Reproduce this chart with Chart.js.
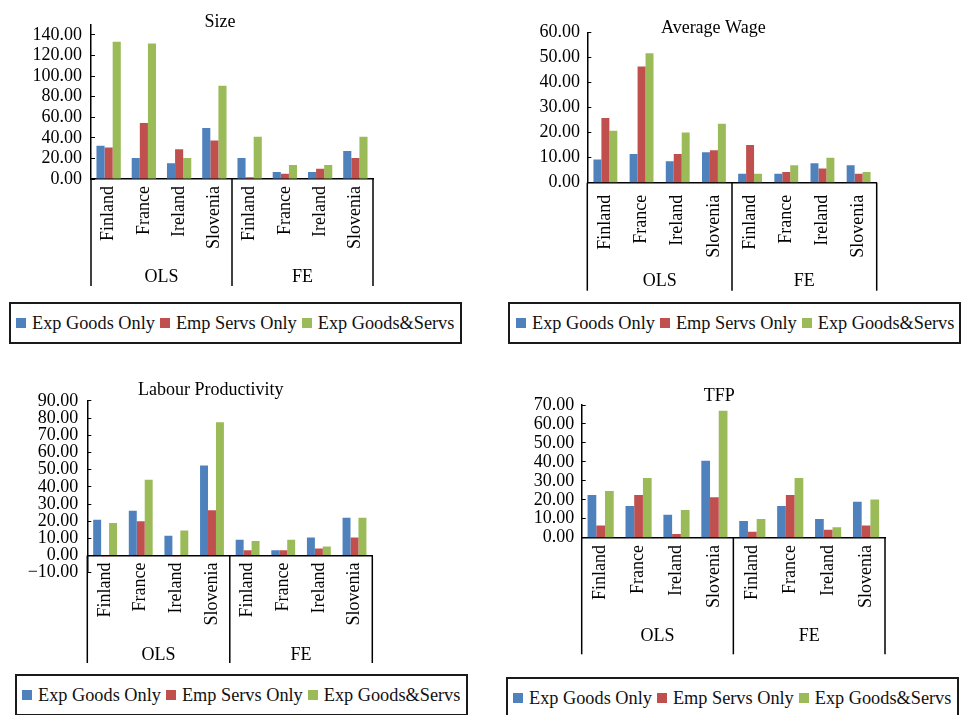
<!DOCTYPE html>
<html>
<head>
<meta charset="utf-8">
<script src="https://cdn.jsdelivr.net/npm/chart.js@4/dist/chart.umd.min.js"></script>
<style>
  html, body { margin: 0; padding: 0; background: #fff; }
  body { position: relative; width: 963px; height: 715px; overflow: hidden;
         font-family: "Liberation Serif", "Times New Roman", serif; }
  canvas.panel { position: absolute; }
  .legend { position: absolute; box-sizing: border-box; border: 2px solid #1a1a1a;
            display: flex; align-items: center; font-size: 18.3px; color: #111;
            white-space: nowrap; background: #fff; }
  .legend .item { display: flex; align-items: center; margin-right: 5px; }
  .legend .key { display: inline-block; width: 10px; height: 10px; margin-right: 6px; }
</style>
</head>
<body>
<canvas id="c1" class="panel"></canvas>
<canvas id="c2" class="panel"></canvas>
<canvas id="c3" class="panel"></canvas>
<canvas id="c4" class="panel"></canvas>
<div id="l1" class="legend"></div>
<div id="l2" class="legend"></div>
<div id="l3" class="legend"></div>
<div id="l4" class="legend"></div>

<script>
// ---- categories ----
const countries = ['Finland', 'France', 'Ireland', 'Slovenia', 'Finland', 'France', 'Ireland', 'Slovenia'];
const estimators = ['OLS', 'FE'];
const seriesNames = ['Exp Goods Only', 'Emp Servs Only', 'Exp Goods&Servs'];
const seriesColors = ['#4F81BD', '#C0504D', '#9BBB59'];

// ---- Size ----
const sizeGoods = [32.3, 20.4, 15.2, 49.5, 20.4, 6.8, 6.8, 27.2];
const sizeServs = [30.7, 54.3, 28.8, 37.5, 1.6, 5.2, 10.0, 20.4];
const sizeBoth  = [133.2, 131.6, 20.4, 90.5, 41.0, 13.6, 13.6, 41.0];
const sizeTicks = [0, 20, 40, 60, 80, 100, 120, 140];

// ---- Average Wage ----
const wageGoods = [9.3, 11.4, 8.6, 12.1, 3.6, 3.6, 7.8, 7.0];
const wageServs = [25.8, 46.4, 11.4, 12.9, 15.0, 4.3, 5.7, 3.6];
const wageBoth  = [20.7, 51.6, 20.0, 23.5, 3.6, 7.0, 10.0, 4.3];
const wageTicks = [0, 10, 20, 30, 40, 50, 60];

// ---- Labour Productivity ----
const lpGoods = [20.9, 26.1, 11.5, 52.4, 9.2, 3.1, 10.5, 22.0];
const lpServs = [-0.6, 19.9, -0.6, 26.3, 3.1, 3.1, 4.1, 10.5];
const lpBoth  = [18.9, 44.1, 14.6, 77.6, 8.4, 9.2, 5.3, 22.0];
const lpTicks = [-10, 0, 10, 20, 30, 40, 50, 60, 70, 80, 90];

// ---- TFP ----
const tfpGoods = [22.5, 16.7, 12.1, 40.6, 8.8, 16.7, 9.8, 19.0];
const tfpServs = [6.5, 22.5, 1.9, 21.3, 3.2, 22.5, 4.2, 6.5];
const tfpBoth  = [24.6, 31.5, 14.6, 67.0, 9.8, 31.5, 5.5, 20.2];
const tfpTicks = [0, 10, 20, 30, 40, 50, 60, 70];

Chart.defaults.font.family = '"Liberation Serif", "Times New Roman", serif';
Chart.defaults.font.size = 18;
Chart.defaults.color = '#000';
Chart.defaults.animation = false;

const AXIS_COLOR = '#000';
const AXIS_WIDTH = 1.5;

// Vertical separators of the two-level category axis (OLS | FE)
const groupDividers = {
  id: 'groupDividers',
  afterDraw(chart) {
    const x = chart.scales.x, x2 = chart.scales.x2, y = chart.scales.y;
    const per = countries.length / estimators.length;
    const top = y.getPixelForValue(0);
    const bottom = x2.bottom;
    const edges = [x.left];
    for (let g = 1; g < estimators.length; g++) {
      edges.push((x.getPixelForValue(g * per - 1) + x.getPixelForValue(g * per)) / 2);
    }
    edges.push(x.right);
    const ctx = chart.ctx;
    ctx.save();
    ctx.strokeStyle = AXIS_COLOR;
    ctx.lineWidth = AXIS_WIDTH;
    edges.forEach(px => {
      ctx.beginPath();
      ctx.moveTo(px, top);
      ctx.lineTo(px, bottom);
      ctx.stroke();
    });
    ctx.restore();
  }
};

function fmt(v) {
  const s = Math.abs(v).toFixed(2);
  return v < 0 ? '\u2212' + s : s;
}

function buildChart(id, title, series, ticks, yMax, L) {
  const canvas = document.getElementById(id);
  canvas.width = L.w; canvas.height = L.h;
  canvas.style.left = L.left + 'px';
  canvas.style.top = L.top + 'px';

  const xScale = {
    type: 'category',
    position: L.xAtZero ? { y: 0 } : 'bottom',
    grid: { display: false, drawTicks: false },
    border: { display: true, color: AXIS_COLOR, width: AXIS_WIDTH },
    ticks: { autoSkip: false, maxRotation: 90, minRotation: 90, padding: L.xPad, color: '#000' }
  };
  if (!L.xAtZero) xScale.afterFit = s => { s.height = L.xH; };

  return new Chart(canvas, {
    type: 'bar',
    data: {
      labels: countries,
      datasets: series.map((d, i) => ({
        label: seriesNames[i],
        data: d,
        backgroundColor: seriesColors[i],
        borderWidth: 0,
        categoryPercentage: L.cat,
        barPercentage: 1.0,
        xAxisID: 'x',
        yAxisID: 'y'
      }))
    },
    options: {
      responsive: false,
      devicePixelRatio: 1,
      layout: { padding: { left: 0, right: L.padR, top: 0, bottom: L.padB } },
      plugins: {
        legend: { display: false },
        tooltip: { enabled: false },
        title: {
          display: true,
          text: title,
          color: '#000',
          font: { size: 18, weight: 'normal' },
          padding: { top: L.tTop, bottom: L.tBot }
        }
      },
      scales: {
        x: xScale,
        x2: {
          type: 'category',
          labels: estimators,
          position: 'bottom',
          offset: true,
          grid: { display: false, drawTicks: false },
          border: { display: false },
          ticks: { padding: L.x2Pad, color: '#000', maxRotation: 0, autoSkip: false },
          afterFit: s => { s.height = L.x2H; }
        },
        y: {
          type: 'linear',
          min: ticks[0],
          max: yMax,
          afterBuildTicks: s => { s.ticks = ticks.map(v => ({ value: v })); },
          afterFit: s => { s.width = L.yW; },
          grid: { drawOnChartArea: false, drawTicks: true, tickLength: -4, color: AXIS_COLOR, lineWidth: 1 },
          border: { display: true, color: AXIS_COLOR, width: AXIS_WIDTH },
          ticks: { padding: L.yPad, color: '#000', autoSkip: false, callback: v => fmt(v) }
        },
        // empty spacer on the right so the title centres where it should
        spacer: {
          type: 'linear',
          position: 'right',
          display: true,
          grid: { display: false, drawTicks: false },
          border: { display: false },
          ticks: { display: false },
          afterFit: s => { s.width = L.spW; }
        }
      }
    },
    plugins: [groupDividers]
  });
}

function buildLegend(id, L) {
  const el = document.getElementById(id);
  el.style.left = L.left + 'px';
  el.style.top = L.top + 'px';
  el.style.width = L.w + 'px';
  el.style.height = L.h + 'px';
  el.style.paddingLeft = L.pad + 'px';
  seriesNames.forEach((name, i) => {
    const item = document.createElement('span');
    item.className = 'item';
    const key = document.createElement('span');
    key.className = 'key';
    key.style.background = seriesColors[i];
    const txt = document.createElement('span');
    txt.textContent = name;
    item.appendChild(key);
    item.appendChild(txt);
    el.appendChild(item);
  });
}

buildChart('c1', 'Size', [sizeGoods, sizeServs, sizeBoth], sizeTicks, 150, {
  left: 0, top: 0, w: 480, h: 290, padR: 40, spW: 67, padB: 4, yW: 91, yPad: 13,
  tTop: 11.2, tBot: -8.3, xH: 80, xPad: 7, x2H: 27, x2Pad: 7, cat: 0.69
});
buildChart('c2', 'Average Wage', [wageGoods, wageServs, wageBoth], wageTicks, 60, {
  left: 480, top: 0, w: 483, h: 295, padR: 16.4, spW: 69.9, padB: 4.3, yW: 107.3, yPad: 11.3,
  tTop: 17.5, tBot: -6.8, xH: 77.3, xPad: 12, x2H: 30.7, x2Pad: 10.2, cat: 0.66
});
buildChart('c3', 'Labour Productivity', [lpGoods, lpServs, lpBoth], lpTicks, 90, {
  left: 0, top: 370, w: 480, h: 298, padR: 58.4, spW: 49.3, padB: 5, yW: 87.3, yPad: 13,
  tTop: 9.2, tBot: 0.2, xAtZero: true, xPad: 7, x2H: 90.3, x2Pad: 71.5, cat: 0.67
});
buildChart('c4', 'TFP', [tfpGoods, tfpServs, tfpBoth], tfpTicks, 70, {
  left: 480, top: 370, w: 483, h: 290, padR: 4.4, spW: 73.6, padB: 5.7, yW: 101.7, yPad: 11.4,
  tTop: 15.9, tBot: -2.5, xH: 77.3, xPad: 7.3, x2H: 39.3, x2Pad: 10.9, cat: 0.69
});

buildLegend('l1', { left: 9, top: 302, w: 453, h: 42, pad: 5 });
buildLegend('l2', { left: 508, top: 302, w: 453, h: 42, pad: 6 });
buildLegend('l3', { left: 15, top: 674, w: 453, h: 42, pad: 5 });
buildLegend('l4', { left: 506, top: 677, w: 453, h: 42, pad: 5 });
</script>
</body>
</html>
